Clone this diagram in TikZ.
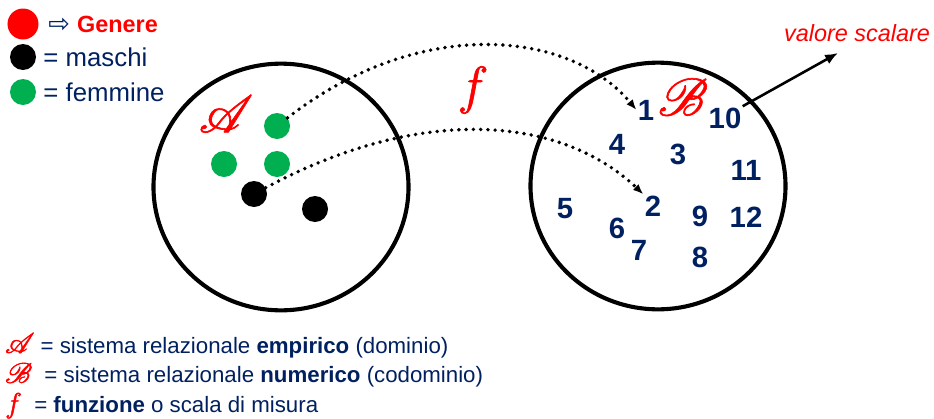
\documentclass[tikz,border=0pt]{standalone}
\usepackage{fontspec}
\setmainfont{Liberation Sans}
\newfontfamily\arrowfont{DejaVu Sans}
\usepackage{mathrsfs}
\usetikzlibrary{positioning,shapes.geometric,arrows.meta}
\definecolor{navy}{RGB}{0,32,96}
\definecolor{leafgreen}{RGB}{0,176,80}
\newcommand\heavyglyph[1]{\special{pdf:literal direct 2 Tr 0.3 w}#1\special{pdf:literal direct 0 Tr 0.4 w}}
\newcommand\symA{\heavyglyph{$\mathscr{A}$}}
\newcommand\symB{\heavyglyph{$\mathscr{B}$}}
\newcommand\symf{\heavyglyph{$f$}}
\begin{document}
\begin{tikzpicture}[
  x=0.03cm, y=-0.03cm,
  setbox/.style={draw, ellipse, line width=3.5pt,
                 minimum width=7.65cm, minimum height=7.4cm},
  dot/.style={circle, inner sep=0pt, minimum size=0.78cm},
  num/.style={text=navy, font=\fontsize{25}{25}\selectfont\bfseries, inner sep=1pt},
  legtext/.style={text=navy, font=\fontsize{22}{22}\selectfont, inner sep=0pt},
  bottomline/.style={text=navy, font=\fontsize{19}{19}\selectfont,
                     inner sep=0pt, anchor=base west},
  script/.style={text=red, font=\fontsize{24}{24}\selectfont, inner sep=0pt},
  map/.style={-{Latex[length=9pt,width=7pt]}, line width=3.3pt, line cap=round,
              dash pattern=on 0pt off 6.2pt},
  arrow/.style={-{Latex[length=11pt,width=9pt]}, line width=2.2pt}
]
\useasboundingbox (0,0) rectangle (934,418);

% legend
\node[dot, fill=red, minimum size=0.93cm] (rdot) at (23,24) {};
\node[dot, fill=black] (kdot) at (23,57) {};
\node[dot, fill=leafgreen] (gdot) at (23,92) {};
\node[legtext, right=8pt of rdot] (genere)
  {{\arrowfont ⇨}\ \textcolor{red}{\fontsize{20}{20}\selectfont\bfseries Genere}};
\node[legtext, right=6pt of kdot] (maschi) {= maschi};
\node[legtext, right=6pt of gdot] (femmine) {= femmine};

% the two sets
\node[setbox] (dom) at (281,187) {};
\node[setbox] (cod) at (658,186) {};
\node[script, scale=1.8] (setA) at (226,114) {\symA};
\node[script, scale=1.8] (setB) at (683,97) {\symB};
\node[script, scale=1.8] (fun) at (473,90) {\symf};

\node[dot, fill=leafgreen] (g1) at (277,126) {};
\node[dot, fill=leafgreen] (g2) at (224,164) {};
\node[dot, fill=leafgreen] (g3) at (277,164) {};
\node[dot, fill=black] (k1) at (254,194) {};
\node[dot, fill=black] (k2) at (315,209) {};

\node[num] (n1) at (646,110) {1};
\node[num] (n2) at (653,206) {2};
\node[num] (n3) at (678,154) {3};
\node[num] (n4) at (617,144) {4};
\node[num] (n5) at (565,209) {5};
\node[num] (n6) at (617,228) {6};
\node[num] (n7) at (639,250) {7};
\node[num] (n8) at (700,257) {8};
\node[num] (n9) at (700,216) {9};
\node[num] (n10) at (725,118) {10};
\node[num] (n11) at (746,170) {11};
\node[num] (n12) at (746,217) {12};

\draw[map] (g1) .. controls (420,15) and (570,30) .. (n1.west);
\draw[map] (k1) .. controls (420,105) and (560,115) .. (n2.north west);

\node[text=red, font=\fontsize{20}{20}\selectfont\itshape] (scalar) at (857,33) {valore scalare};
\coordinate (tipv) at (838,53);
\draw[arrow] (n10.north east) -- (tipv);

% meaning of the symbols
\node[bottomline] (lineA) at (5,353)
  {\textcolor{red}{\scalebox{1.4}{\symA}}\ = sistema relazionale \textbf{empirico} (dominio)};
\node[bottomline, below=25.5pt of lineA.base west, anchor=base west] (lineB)
  {\textcolor{red}{\scalebox{1.4}{\symB}}\ \ = sistema relazionale \textbf{numerico} (codominio)};
\node[bottomline, below=25.5pt of lineB.base west, anchor=base west] (lineF)
  {\textcolor{red}{\scalebox{1.4}{\symf}}\ \ = \textbf{funzione} o scala di misura};
\end{tikzpicture}
\end{document}
